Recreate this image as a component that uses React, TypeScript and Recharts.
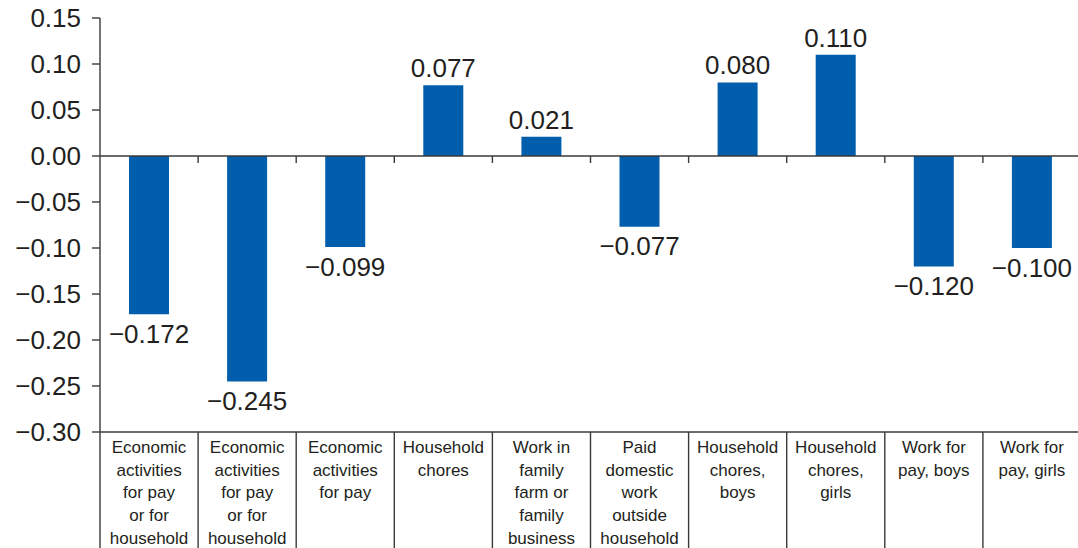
import { BarChart, Bar, XAxis, YAxis, ReferenceLine, LabelList } from "recharts";

// Catégories (libellés multi-lignes, séparés par \n) et valeurs.
const categories = [
  "Economic\nactivities\nfor pay\nor for\nhousehold",
  "Economic\nactivities\nfor pay\nor for\nhousehold ",
  "Economic\nactivities\nfor pay",
  "Household\nchores",
  "Work in\nfamily\nfarm or\nfamily\nbusiness",
  "Paid\ndomestic\nwork\noutside\nhousehold",
  "Household\nchores,\nboys",
  "Household\nchores,\ngirls",
  "Work for\npay, boys",
  "Work for\npay, girls",
];
const values = [-0.172, -0.245, -0.099, 0.077, 0.021, -0.077, 0.08, 0.11, -0.12, -0.1];
const yTicks = [-0.3, -0.25, -0.2, -0.15, -0.1, -0.05, 0, 0.05, 0.1, 0.15];

const data = categories.map((c, i) => ({ name: c, value: values[i] }));

// Le graphique déborde un peu à droite, comme l'original (coupé au bord).
const VIEW_W = 1078;
const W = 1081;
const H = 548;
const MARGIN = { top: 18, right: 0, bottom: 0, left: 0 };
const Y_AXIS_W = 100;
const X_AXIS_H = 116;
const BAND = (W - MARGIN.left - MARGIN.right - Y_AXIS_W) / categories.length;

const BLUE = "#005EAC";
const INK = "#231f20";
const LINE = "#3a3a3a";
const FONT = "'Liberation Sans', Arial, sans-serif";

const fmt = (v: number) => (v < 0 ? "\u2212" : "") + Math.abs(v).toFixed(2);
const fmt3 = (v: number) => (v < 0 ? "\u2212" : "") + Math.abs(v).toFixed(3);

function CategoryTick(props: any) {
  const { x, y, payload, index } = props;
  const lines = String(payload.value).trim().split("\n");
  const left = x - BAND / 2;
  return (
    <g>
      <line x1={left} y1={y} x2={left} y2={y + 130} stroke={LINE} strokeWidth={1.4} />
      {index === categories.length - 1 && (
        <line x1={x + BAND / 2} y1={y} x2={x + BAND / 2} y2={y + 130} stroke={LINE} strokeWidth={1.4} />
      )}
      <text x={x} textAnchor="middle" fontSize={17} fill={INK} fontFamily={FONT}>
        {lines.map((l, i) => (
          <tspan key={i} x={x} y={y + 21 + i * 22.7}>
            {l}
          </tspan>
        ))}
      </text>
    </g>
  );
}

// Ligne du zéro avec petites graduations aux frontières des catégories.
function ZeroLine(props: any) {
  const { x1, x2, y1 } = props;
  const step = (x2 - x1) / categories.length;
  return (
    <g>
      <line x1={x1} y1={y1} x2={x2} y2={y1} stroke={LINE} strokeWidth={1.4} />
      {categories.slice(1).map((_, i) => (
        <line key={i} x1={x1 + step * (i + 1)} y1={y1} x2={x1 + step * (i + 1)} y2={y1 + 7} stroke={LINE} strokeWidth={1.4} />
      ))}
    </g>
  );
}

function ValueLabel(props: any) {
  const { x, y, width, height, value } = props;
  const cx = x + width / 2;
  const end = value < 0 ? Math.max(y, y + height) : Math.min(y, y + height);
  const ty = value < 0 ? end + 28.5 : end - 8;
  return (
    <text x={cx} y={ty} textAnchor="middle" fontSize={26} fill={INK} fontFamily={FONT}>
      {fmt3(value)}
    </text>
  );
}

export default function App() {
  return (
    <div style={{ position: "absolute", left: 0, top: 0, width: VIEW_W, height: H, overflow: "hidden", background: "#fff" }}>
      <BarChart width={W} height={H} data={data} margin={MARGIN}>
        <XAxis
          dataKey="name"
          height={X_AXIS_H}
          interval={0}
          tickLine={false}
          tickSize={0}
          tickMargin={0}
          axisLine={{ stroke: LINE, strokeWidth: 1.4 }}
          tick={<CategoryTick />}
        />
        <YAxis
          width={Y_AXIS_W}
          domain={[-0.3, 0.15]}
          ticks={yTicks}
          tickFormatter={fmt}
          tickSize={8}
          tickMargin={11}
          axisLine={{ stroke: LINE, strokeWidth: 1.4 }}
          tickLine={{ stroke: LINE, strokeWidth: 1.4 }}
          tick={{ fontSize: 26, fill: INK, fontFamily: FONT }}
          interval={0}
        />
        <Bar dataKey="value" fill={BLUE} barSize={40} isAnimationActive={false}>
          <LabelList dataKey="value" content={<ValueLabel />} />
        </Bar>
        <ReferenceLine y={0} shape={<ZeroLine />} />
      </BarChart>
    </div>
  );
}
